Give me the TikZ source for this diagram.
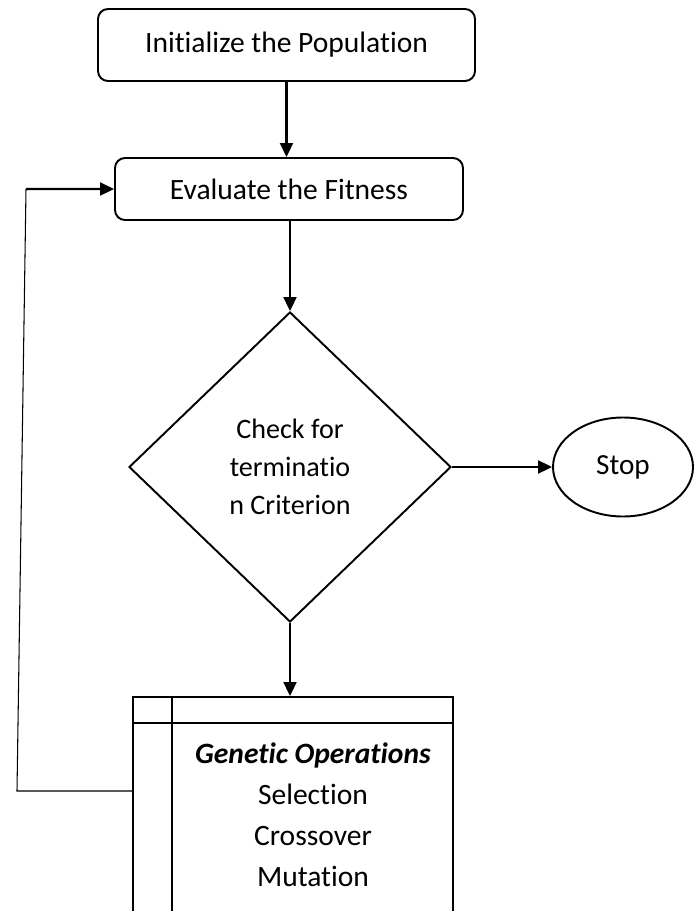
\documentclass[tikz,border=0pt]{standalone}
\usepackage{fontspec}
\setmainfont{Carlito}[Ligatures=NoCommon]
\usepackage{tikz}
\usetikzlibrary{arrows.meta,shapes,positioning}
\tikzstyle{arrow} = [line width=1.2pt,-{Triangle[length=2.8mm,width=2.6mm]}]
\tikzstyle{stepbox} = [rectangle, rounded corners=0.2cm, draw, line width=1.1pt, text centered, font=\fontsize{16.8}{20}\selectfont]
\tikzstyle{decision} = [diamond, draw, line width=1.1pt, inner sep=0pt, align=center, font=\fontsize{16}{21.5}\selectfont]

\begin{document}
\begin{tikzpicture}[node distance=3cm]
\useasboundingbox (0,0) rectangle (13.98,-18.22);
% Main flow
\node (init) [stepbox, minimum width=7.54cm, minimum height=1.44cm] at (5.73,-0.90) {Initialize the Population};
\node (eval) [stepbox, below of=init, node distance=2.88cm, xshift=0.05cm, minimum width=6.96cm, minimum height=1.24cm] {Evaluate the Fitness};
\node (check) [decision, below of=eval, node distance=5.56cm, xshift=0.02cm, minimum width=6.44cm, minimum height=6.20cm] {Check for\\ terminatio\\ n Criterion};
\node (stop) [ellipse, draw, line width=1.1pt, right of=check, node distance=6.66cm, minimum width=2.80cm, minimum height=1.98cm, font=\fontsize{16.6}{20}\selectfont] {Stop};
\node (genops) [rectangle, draw, line width=1.1pt, below of=check, node distance=6.76cm, xshift=0.06cm, minimum width=6.40cm, minimum height=4.32cm] {};
\draw[line width=1.1pt] ([yshift=-0.54cm]genops.north west) -- ([yshift=-0.54cm]genops.north east);
\draw[line width=1.1pt] ([xshift=0.80cm]genops.north west) -- ([xshift=0.80cm]genops.south west);
\node (opstext) [align=center, font=\fontsize{16.8}{23.3}\selectfont] at (6.26,-16.30) {\textbf{\textit{Genetic Operations}}\\ Selection\\ Crossover\\ Mutation};

\draw[arrow] (init.south) -- (init.south |- eval.north);
\draw[arrow] (eval.south -| check.north) -- (check.north);
\draw[arrow] (check.east) -- (stop.west);
\draw[arrow] (check.south) -- (check.south |- genops.north);

% Loop back
\coordinate (loopbot) at (0.34,-15.82);
\coordinate (looptop) at (0.52,-3.78);
\draw[line width=0.6pt] ([yshift=0.28cm]genops.west) -- (loopbot) -- (looptop);
\draw[arrow] (looptop) -- (eval.west);
\end{tikzpicture}
\end{document}
